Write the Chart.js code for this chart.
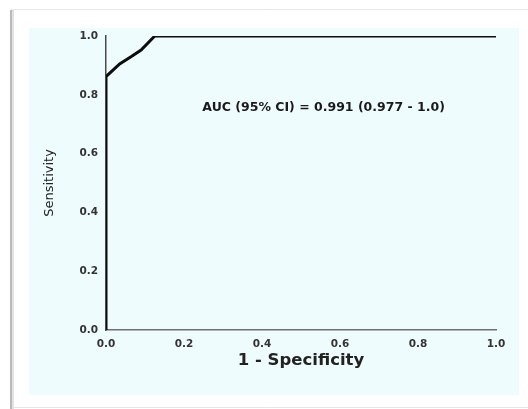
<!DOCTYPE html>
<html>
<head>
<meta charset="utf-8">
<script src="https://cdn.jsdelivr.net/npm/chart.js@4/dist/chart.umd.min.js"></script>
<style>
  html, body { margin: 0; padding: 0; background: #fff; }
  #wrap { width: 528px; height: 409px; }
</style>
</head>
<body>
<div id="wrap"><canvas id="roc" width="528" height="409"></canvas></div>
<script>
// ROC curve points
const fpr = [0, 0, 0.035, 0.065, 0.09, 0.125, 1.0];
const tpr = [0, 0.862, 0.905, 0.93, 0.952, 1.0, 1.0];
const xTicks = [0, 0.2, 0.4, 0.6, 0.8, 1.0];
const yTicks = [0, 0.2, 0.4, 0.6, 0.8, 1.0];
const aucText = 'AUC (95% CI) = 0.991 (0.977 - 1.0)';
const aucPos = [0.558, 0.755];

const rocPoints = fpr.map((x, i) => ({ x: x, y: tpr[i] }));

// frame + light panel behind the plot
const framePlugin = {
  id: 'frame',
  beforeDraw(chart) {
    const ctx = chart.ctx;
    ctx.save();
    ctx.fillStyle = '#ffffff';
    ctx.fillRect(0, 0, chart.width, chart.height);
    ctx.strokeStyle = '#e6e6e6';
    ctx.lineWidth = 1;
    ctx.beginPath();
    ctx.moveTo(11, 9.5); ctx.lineTo(528, 9.5);
    ctx.moveTo(11, 407.5); ctx.lineTo(528, 407.5);
    ctx.stroke();
    ctx.strokeStyle = '#b9b9b9';
    ctx.lineWidth = 2;
    ctx.beginPath();
    ctx.moveTo(11, 10); ctx.lineTo(11, 409);
    ctx.stroke();
    ctx.strokeStyle = '#e2e2e2';
    ctx.lineWidth = 2;
    ctx.beginPath();
    ctx.moveTo(13, 10); ctx.lineTo(13, 409);
    ctx.stroke();
    ctx.fillStyle = '#effcfd';
    ctx.fillRect(29, 28, 490, 367);
    ctx.restore();
  },
  afterDatasetsDraw(chart) {
    // AUC annotation, placed in data coordinates
    const ctx = chart.ctx;
    const xs = chart.scales.x, ys = chart.scales.y;
    ctx.save();
    ctx.font = 'bold 12.5px "DejaVu Sans", Verdana, sans-serif';
    ctx.fillStyle = '#1a1a1a';
    ctx.textAlign = 'center';
    ctx.textBaseline = 'middle';
    ctx.fillText(aucText, xs.getPixelForValue(aucPos[0]), ys.getPixelForValue(aucPos[1]));
    ctx.restore();
  }
};

const tickFont = { family: '"DejaVu Sans", Verdana, sans-serif', size: 10.5, weight: 'bold' };

new Chart(document.getElementById('roc'), {
  type: 'scatter',
  data: {
    datasets: [{
      data: rocPoints,
      showLine: true,
      borderColor: '#0d0d0d',
      borderWidth: 3,
      pointRadius: 0,
      tension: 0,
      fill: false
    }]
  },
  options: {
    responsive: false,
    animation: false,
    events: [],
    layout: { padding: { left: 0, top: 36, right: 32, bottom: 0 } },
    plugins: { legend: { display: false }, tooltip: { enabled: false } },
    scales: {
      x: {
        type: 'linear',
        min: 0, max: 1,
        afterFit(scale) { scale.height = 79; },
        afterBuildTicks(scale) { scale.ticks = xTicks.map(v => ({ value: v })); },
        grid: { display: false, drawTicks: false },
        border: { display: true, color: '#6e6e6e', width: 1.5 },
        ticks: {
          padding: 8,
          color: '#333',
          font: tickFont,
          maxRotation: 0,
          callback: v => v.toFixed(1)
        },
        title: {
          display: true,
          text: '1 - Specificity',
          color: '#222',
          font: { family: '"DejaVu Sans", Verdana, sans-serif', size: 16.5, weight: 'bold' },
          padding: { top: 0, bottom: 38 }
        }
      },
      y: {
        type: 'linear',
        min: 0, max: 1,
        afterFit(scale) { scale.width = 106; },
        afterBuildTicks(scale) { scale.ticks = yTicks.map(v => ({ value: v })); },
        grid: { display: false, drawTicks: false },
        border: { display: true, color: '#4a4a4a', width: 1.5 },
        ticks: {
          padding: 8,
          color: '#333',
          font: tickFont,
          callback: v => v.toFixed(1)
        },
        title: {
          display: true,
          text: 'Sensitivity',
          color: '#222',
          font: { family: '"DejaVu Sans", Verdana, sans-serif', size: 13 },
          padding: { top: 42, bottom: 0 }
        }
      }
    }
  },
  plugins: [framePlugin]
});
</script>
</body>
</html>
